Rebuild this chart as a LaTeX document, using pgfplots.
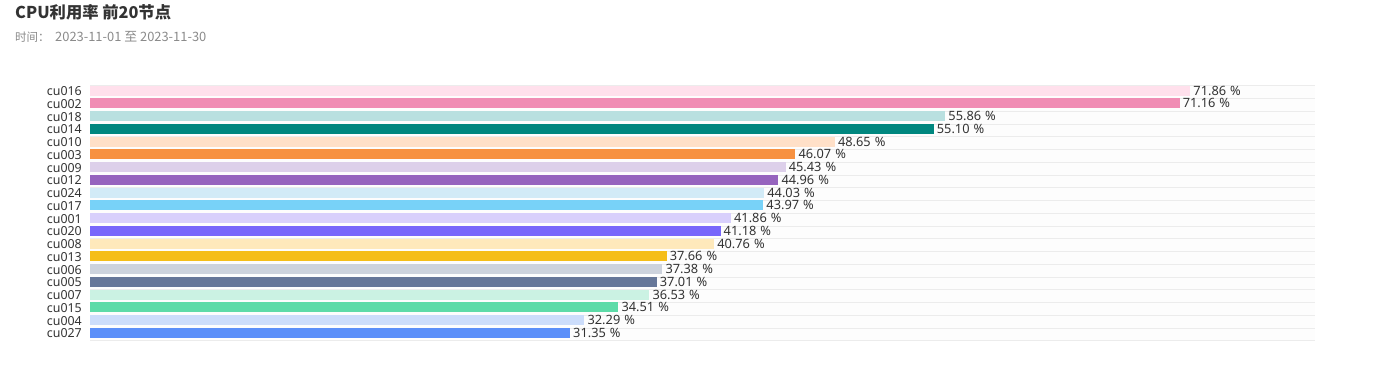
\documentclass[border=0pt]{standalone}
\usepackage{fontspec}
\setmainfont{Noto Sans}
\newfontfamily\cjk{Noto Sans CJK SC}
\usepackage{pgfplots}
\pgfplotsset{compat=1.18}
\definecolor{ctxt}{HTML}{333333}
\definecolor{csub}{HTML}{8A8A8A}
\definecolor{cgrid}{HTML}{ECECEC}
\definecolor{cbg}{HTML}{FDFDFD}
\definecolor{k1}{HTML}{FFE0EC}
\definecolor{k2}{HTML}{F08CB4}
\definecolor{k3}{HTML}{B9E0E0}
\definecolor{k4}{HTML}{00877F}
\definecolor{k5}{HTML}{FFE0C8}
\definecolor{k6}{HTML}{F79140}
\definecolor{k7}{HTML}{DDD0EA}
\definecolor{k8}{HTML}{9664BE}
\definecolor{k9}{HTML}{D2EBF7}
\definecolor{k10}{HTML}{78D2F8}
\definecolor{k11}{HTML}{D8D0FC}
\definecolor{k12}{HTML}{7766FB}
\definecolor{k13}{HTML}{FEE9BB}
\definecolor{k14}{HTML}{F5BE19}
\definecolor{k15}{HTML}{CDD3DD}
\definecolor{k16}{HTML}{667799}
\definecolor{k17}{HTML}{CBF2E3}
\definecolor{k18}{HTML}{5DDBA8}
\definecolor{k19}{HTML}{CCDDFB}
\definecolor{k20}{HTML}{5B8FF9}
\begin{document}
\begin{tikzpicture}
\path[use as bounding box] (0,0) rectangle (1380bp,382bp);
\node[anchor=base west, inner sep=0, font=\cjk\bfseries\fontsize{16.3bp}{19bp}\selectfont, text=ctxt] at (15bp,363bp) {CPU利用率 前20节点};
\node[anchor=base west, inner sep=0, font=\cjk\fontsize{11.5bp}{14bp}\selectfont, text=csub] at (15bp,340.7bp) {时间：\hspace{5.5bp}{\fontsize{12.9bp}{14bp}\selectfont 2023-11-01 至 2023-11-30}};
\begin{axis}[
  at={(90bp,41.3bp)}, anchor=south west,
  scale only axis, width=1225bp, height=255bp,
  xmin=0, xmax=80, ymin=-0.5, ymax=19.5, y dir=reverse,
  xbar, bar width=10bp, bar shift=1.5bp,
  xtick=\empty,
  ytick={0,...,19},
  yticklabels={cu016,cu002,cu018,cu014,cu010,cu003,cu009,cu012,cu024,cu017,cu001,cu020,cu008,cu013,cu006,cu005,cu007,cu015,cu004,cu027},
  yticklabel style={font=\fontsize{12.4bp}{14bp}\selectfont, text=ctxt, inner sep=0pt, xshift=-8bp, yshift=1bp},
  axis line style={draw=none},
  major tick length=0, minor tick length=0,
  minor ytick={-0.5,0.5,...,19.5},
  yminorgrids, minor grid style={draw=cgrid, line width=0.8bp},
  axis background/.style={fill=cbg},
  point meta=explicit symbolic,
  nodes near coords={\pgfplotspointmeta\hspace{4bp}\%},
  nodes near coords align={horizontal},
  every node near coord/.append style={font=\fontsize{12.8bp}{14bp}\selectfont, text=ctxt, inner sep=0pt, xshift=3bp, anchor=west},
  clip=false,
]
\addplot[fill=k1,draw=none] coordinates {(71.86,0) [71.86]};
\addplot[fill=k2,draw=none] coordinates {(71.16,1) [71.16]};
\addplot[fill=k3,draw=none] coordinates {(55.86,2) [55.86]};
\addplot[fill=k4,draw=none] coordinates {(55.10,3) [55.10]};
\addplot[fill=k5,draw=none] coordinates {(48.65,4) [48.65]};
\addplot[fill=k6,draw=none] coordinates {(46.07,5) [46.07]};
\addplot[fill=k7,draw=none] coordinates {(45.43,6) [45.43]};
\addplot[fill=k8,draw=none] coordinates {(44.96,7) [44.96]};
\addplot[fill=k9,draw=none] coordinates {(44.03,8) [44.03]};
\addplot[fill=k10,draw=none] coordinates {(43.97,9) [43.97]};
\addplot[fill=k11,draw=none] coordinates {(41.86,10) [41.86]};
\addplot[fill=k12,draw=none] coordinates {(41.18,11) [41.18]};
\addplot[fill=k13,draw=none] coordinates {(40.76,12) [40.76]};
\addplot[fill=k14,draw=none] coordinates {(37.66,13) [37.66]};
\addplot[fill=k15,draw=none] coordinates {(37.38,14) [37.38]};
\addplot[fill=k16,draw=none] coordinates {(37.01,15) [37.01]};
\addplot[fill=k17,draw=none] coordinates {(36.53,16) [36.53]};
\addplot[fill=k18,draw=none] coordinates {(34.51,17) [34.51]};
\addplot[fill=k19,draw=none] coordinates {(32.29,18) [32.29]};
\addplot[fill=k20,draw=none] coordinates {(31.35,19) [31.35]};
\end{axis}
\end{tikzpicture}
\end{document}
